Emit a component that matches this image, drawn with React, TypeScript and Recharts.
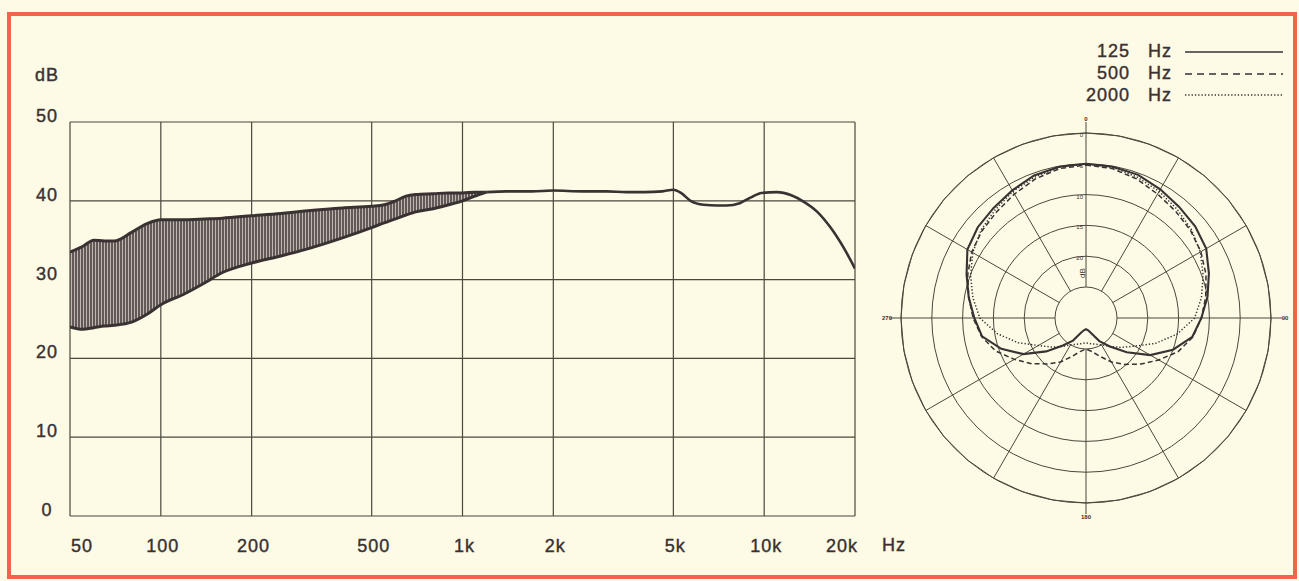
import React from "react";
import {
  ComposedChart,
  Area,
  Line,
  XAxis,
  YAxis,
  CartesianGrid,
  RadarChart,
  Radar,
  PolarGrid,
  PolarAngleAxis,
  PolarRadiusAxis,
} from "recharts";

const INK = "#3a3132";
const GRID = "#4d473c";
const PAPER = "#fdfbe6";
const FRAME = "#f0654a";
const FONT = "'Liberation Sans', Arial, sans-serif";

// frequency response, near/far field band (Hz, dB)
const bandFreqs = [50, 55, 60, 65, 70, 80, 90, 100, 120, 140, 160, 200, 250, 300, 400, 500, 550, 600, 650, 700, 800, 900, 1000, 1100, 1200];
const bandUpper = [33.5, 34.2, 35.0, 34.9, 34.9, 36.0, 37.1, 37.6, 37.6, 37.7, 37.8, 38.1, 38.4, 38.7, 39.1, 39.3, 39.5, 40.0, 40.6, 40.8, 40.9, 41.0, 41.0, 41.1, 41.1];
const bandLower = [24.0, 23.7, 23.9, 24.1, 24.2, 24.6, 25.6, 26.8, 28.2, 29.6, 30.9, 32.1, 33.0, 33.8, 35.3, 36.6, 37.2, 37.7, 38.2, 38.6, 39.0, 39.5, 40.0, 40.6, 41.1];

// single response above 1.2 kHz
const lineFreqs = [1200, 1400, 1700, 2000, 2500, 3000, 3500, 4000, 4600, 5000, 5300, 5700, 6300, 7000, 7500, 8300, 9000, 9800, 11000, 12300, 13500, 15000, 16600, 18500, 20000];
const lineLevels = [41.1, 41.2, 41.2, 41.3, 41.2, 41.2, 41.1, 41.1, 41.2, 41.4, 41.0, 40.0, 39.5, 39.4, 39.4, 39.7, 40.4, 41.0, 41.1, 40.7, 39.9, 38.6, 36.6, 33.8, 31.4];

const xTicks = [50, 100, 200, 500, 1000, 2000, 5000, 10000, 20000];
const xTickLabels = ["50", "100", "200", "500", "1k", "2k", "5k", "10k", "20k"];
const yTicks = [0, 10, 20, 30, 40, 50];

// polar pattern, relative level in dB (0 = front), clockwise from front
const polarAngles = [0, 10, 20, 30, 40, 50, 60, 70, 80, 90, 100, 110, 120, 130, 140, 150, 160, 170, 180, 190, 200, 210, 220, 230, 240, 250, 260, 270, 280, 290, 300, 310, 320, 330, 340, 350];
const polar125 = [
  0.0, -0.1, -0.3, -0.9, -1.5, -1.9, -2.5, -3.8, -5.0, -6.3,
  -7.5, -10.0, -13.0, -16.4, -19.0, -20.7, -22.3, -23.0, -23.2,
  -23.0, -22.4, -20.8, -19.2, -16.6, -13.3, -10.4, -7.9,
  -6.9, -5.7, -4.4, -2.8, -2.1, -1.7, -1.1, -0.4, -0.1,
];
const polar500 = [
  -0.2, -0.4, -1.0, -1.8, -2.4, -2.9, -3.5, -4.3, -5.3, -6.3,
  -7.4, -9.1, -11.4, -13.4, -15.2, -16.8, -18.4, -19.5, -20.0,
  -19.5, -18.4, -16.8, -15.3, -13.5, -11.6, -9.4, -7.8,
  -6.7, -5.7, -4.6, -3.6, -3.0, -2.5, -1.8, -1.0, -0.4,
];
const polar2000 = [
  0.0, -0.2, -0.7, -1.3, -2.0, -2.7, -3.6, -4.8, -6.0, -7.4,
  -10.0, -13.0, -15.9, -17.6, -19.0, -20.0, -20.5, -20.8, -21.0,
  -20.8, -20.5, -20.0, -19.0, -17.7, -16.1, -13.3, -10.4,
  -7.8, -6.4, -5.1, -3.8, -2.8, -2.1, -1.3, -0.7, -0.2,
];
const polarRings = [-20, -15, -10, -5, 0, 5];
const spokeAngles = [0, 30, 60, 90, 120, 150, 180, 210, 240, 270, 300, 330];

const polarSeries = [
  { key: "f125", label: "125", dash: undefined as string | undefined, legendDash: undefined as string | undefined, width: 2.1 },
  { key: "f500", label: "500", dash: "5 3", legendDash: "7 5", width: 1.5 },
  { key: "f2000", label: "2000", dash: "1.3 2", legendDash: "1.3 2", width: 1.5 },
];

const bandData = bandFreqs.map((f, i) => ({ f, range: [bandLower[i], bandUpper[i]] }));
const lineData = lineFreqs.map((f, i) => ({ f, db: lineLevels[i] }));
const polarData = polarAngles.map((angle, i) => ({
  angle,
  f125: polar125[i],
  f500: polar500[i],
  f2000: polar2000[i],
}));

const textStyle = { fontFamily: FONT, fontSize: 18, letterSpacing: 1, fill: INK, stroke: INK, strokeWidth: 0.4 };

const POLAR_CX = 206;
const POLAR_CY = 218;

function XTick(props: any) {
  const { x, y, index } = props;
  const shift = index === 0 ? 12 : index === xTicks.length - 1 ? -13 : 2;
  return (
    <text x={x + shift} y={y + 22} textAnchor="middle" dominantBaseline="central" style={textStyle}>
      {xTickLabels[index]}
    </text>
  );
}

function YTick(props: any) {
  const { y, payload } = props;
  return (
    <text x={47} y={y - 6} textAnchor="middle" dominantBaseline="central" style={textStyle}>
      {payload.value}
    </text>
  );
}

function AngleTick(props: any) {
  const { x, y, payload } = props;
  const v = Number(payload.value);
  if (v % 90 !== 0) return <g />;
  const dx = x - POLAR_CX;
  const dy = y - POLAR_CY;
  const d = Math.hypot(dx, dy) || 1;
  const ux = dx / d;
  const uy = dy / d;
  return (
    <g>
      <line x1={x - ux * 11} y1={y - uy * 11} x2={x} y2={y} stroke={GRID} strokeWidth={1} />
      <text
        x={x + ux * 3}
        y={y + uy * 3}
        textAnchor="middle"
        dominantBaseline="central"
        style={{ fontFamily: FONT, fontSize: 6, fontWeight: 700, fill: INK }}
      >
        {v}
      </text>
    </g>
  );
}

function RadiusTick(props: any) {
  const { x, y, payload } = props;
  const v = Number(payload.value);
  if (v === -20) {
    return (
      <text
        x={x - 4}
        y={y - 14}
        transform={`rotate(-90 ${x - 4} ${y - 14})`}
        textAnchor="middle"
        dominantBaseline="central"
        style={{ fontFamily: FONT, fontSize: 8, fill: INK }}
      >
        dB
      </text>
    );
  }
  return (
    <text x={x - 3} y={y + 2} textAnchor="end" dominantBaseline="central" style={{ fontFamily: FONT, fontSize: 6, fill: INK }}>
      {5 - v}
    </text>
  );
}

function PolarLegend() {
  return (
    <div
      style={{
        position: "absolute",
        left: 1040,
        top: 41,
        fontFamily: FONT,
        fontSize: 18,
        letterSpacing: 1,
        color: INK,
        WebkitTextStroke: `0.4px ${INK}`,
      }}
    >
      {polarSeries.map((s) => (
        <div key={s.key} style={{ display: "flex", alignItems: "center", height: 21.7 }}>
          <span style={{ width: 90, textAlign: "right" }}>{s.label}</span>
          <span style={{ width: 37, marginLeft: 18 }}>Hz</span>
          <svg width={98} height={6}>
            <line x1={0} y1={3} x2={98} y2={3} stroke={INK} strokeWidth={1.3} strokeDasharray={s.legendDash} />
          </svg>
        </div>
      ))}
    </div>
  );
}

export default function App() {
  return (
    <div style={{ position: "absolute", left: 0, top: 0, width: 1299, height: 581, background: PAPER, overflow: "hidden" }}>
      <div
        style={{
          position: "absolute",
          left: 7,
          top: 12,
          width: 1290,
          height: 567,
          boxSizing: "border-box",
          border: `4px solid ${FRAME}`,
        }}
      />
      <div style={{ position: "absolute", left: 0, top: 0 }}>
        <ComposedChart width={920} height={581} margin={{ top: 122, right: 65, bottom: 25, left: 0 }}>
          <defs>
            <pattern id="hatch" patternUnits="userSpaceOnUse" width={3} height={10}>
              <rect width={3} height={10} fill="#bdb7ad" />
              <line x1={1} y1={0} x2={1} y2={10} stroke="#3a3033" strokeWidth={1.4} />
            </pattern>
          </defs>
          <CartesianGrid stroke={GRID} strokeWidth={1.2} />
          <XAxis
            dataKey="f"
            type="number"
            scale="log"
            domain={[50, 20000]}
            ticks={xTicks}
            allowDataOverflow
            axisLine={false}
            tickLine={false}
            height={40}
            tick={<XTick />}
            interval={0}
            label={{ value: "Hz", position: "right", offset: 27, dy: 9, style: textStyle }}
          />
          <YAxis
            type="number"
            domain={[0, 50]}
            ticks={yTicks}
            axisLine={false}
            tickLine={false}
            width={70}
            tick={<YTick />}
            interval={0}
            label={{
              content: (p: any) => (
                <text x={47} y={p.viewBox.y - 47} textAnchor="middle" dominantBaseline="central" style={textStyle}>
                  dB
                </text>
              ),
            }}
          />
          <Area
            data={bandData}
            dataKey="range"
            type="monotone"
            fill="url(#hatch)"
            fillOpacity={1}
            stroke={INK}
            strokeWidth={3}
            isAnimationActive={false}
          />
          <Line
            data={lineData}
            dataKey="db"
            type="monotone"
            stroke={INK}
            strokeWidth={2.6}
            dot={false}
            isAnimationActive={false}
          />
        </ComposedChart>
      </div>
      <div style={{ position: "absolute", left: 880, top: 100 }}>
        <RadarChart
          width={419}
          height={440}
          data={polarData}
          cx={POLAR_CX}
          cy={POLAR_CY}
          innerRadius={31}
          outerRadius={185}
          margin={{ top: 0, right: 0, bottom: 0, left: 0 }}
        >
          <PolarGrid gridType="circle" stroke={GRID} strokeWidth={1} polarAngles={spokeAngles} />
          <PolarAngleAxis
            dataKey="angle"
            axisLine={{ stroke: GRID }}
            tickLine={false}
            tickSize={11}
            tick={<AngleTick />}
          />
          <PolarRadiusAxis
            angle={90}
            domain={[-20, 5]}
            ticks={polarRings}
            tickCount={6}
            allowDataOverflow
            axisLine={false}
            tickLine={false}
            tick={<RadiusTick />}
          />
          {polarSeries.map((s) => (
            <Radar
              key={s.key}
              dataKey={s.key}
              stroke={INK}
              strokeWidth={s.width}
              strokeDasharray={s.dash}
              fill="none"
              fillOpacity={0}
              dot={false}
              isAnimationActive={false}
            />
          ))}
        </RadarChart>
      </div>
      <PolarLegend />
    </div>
  );
}
